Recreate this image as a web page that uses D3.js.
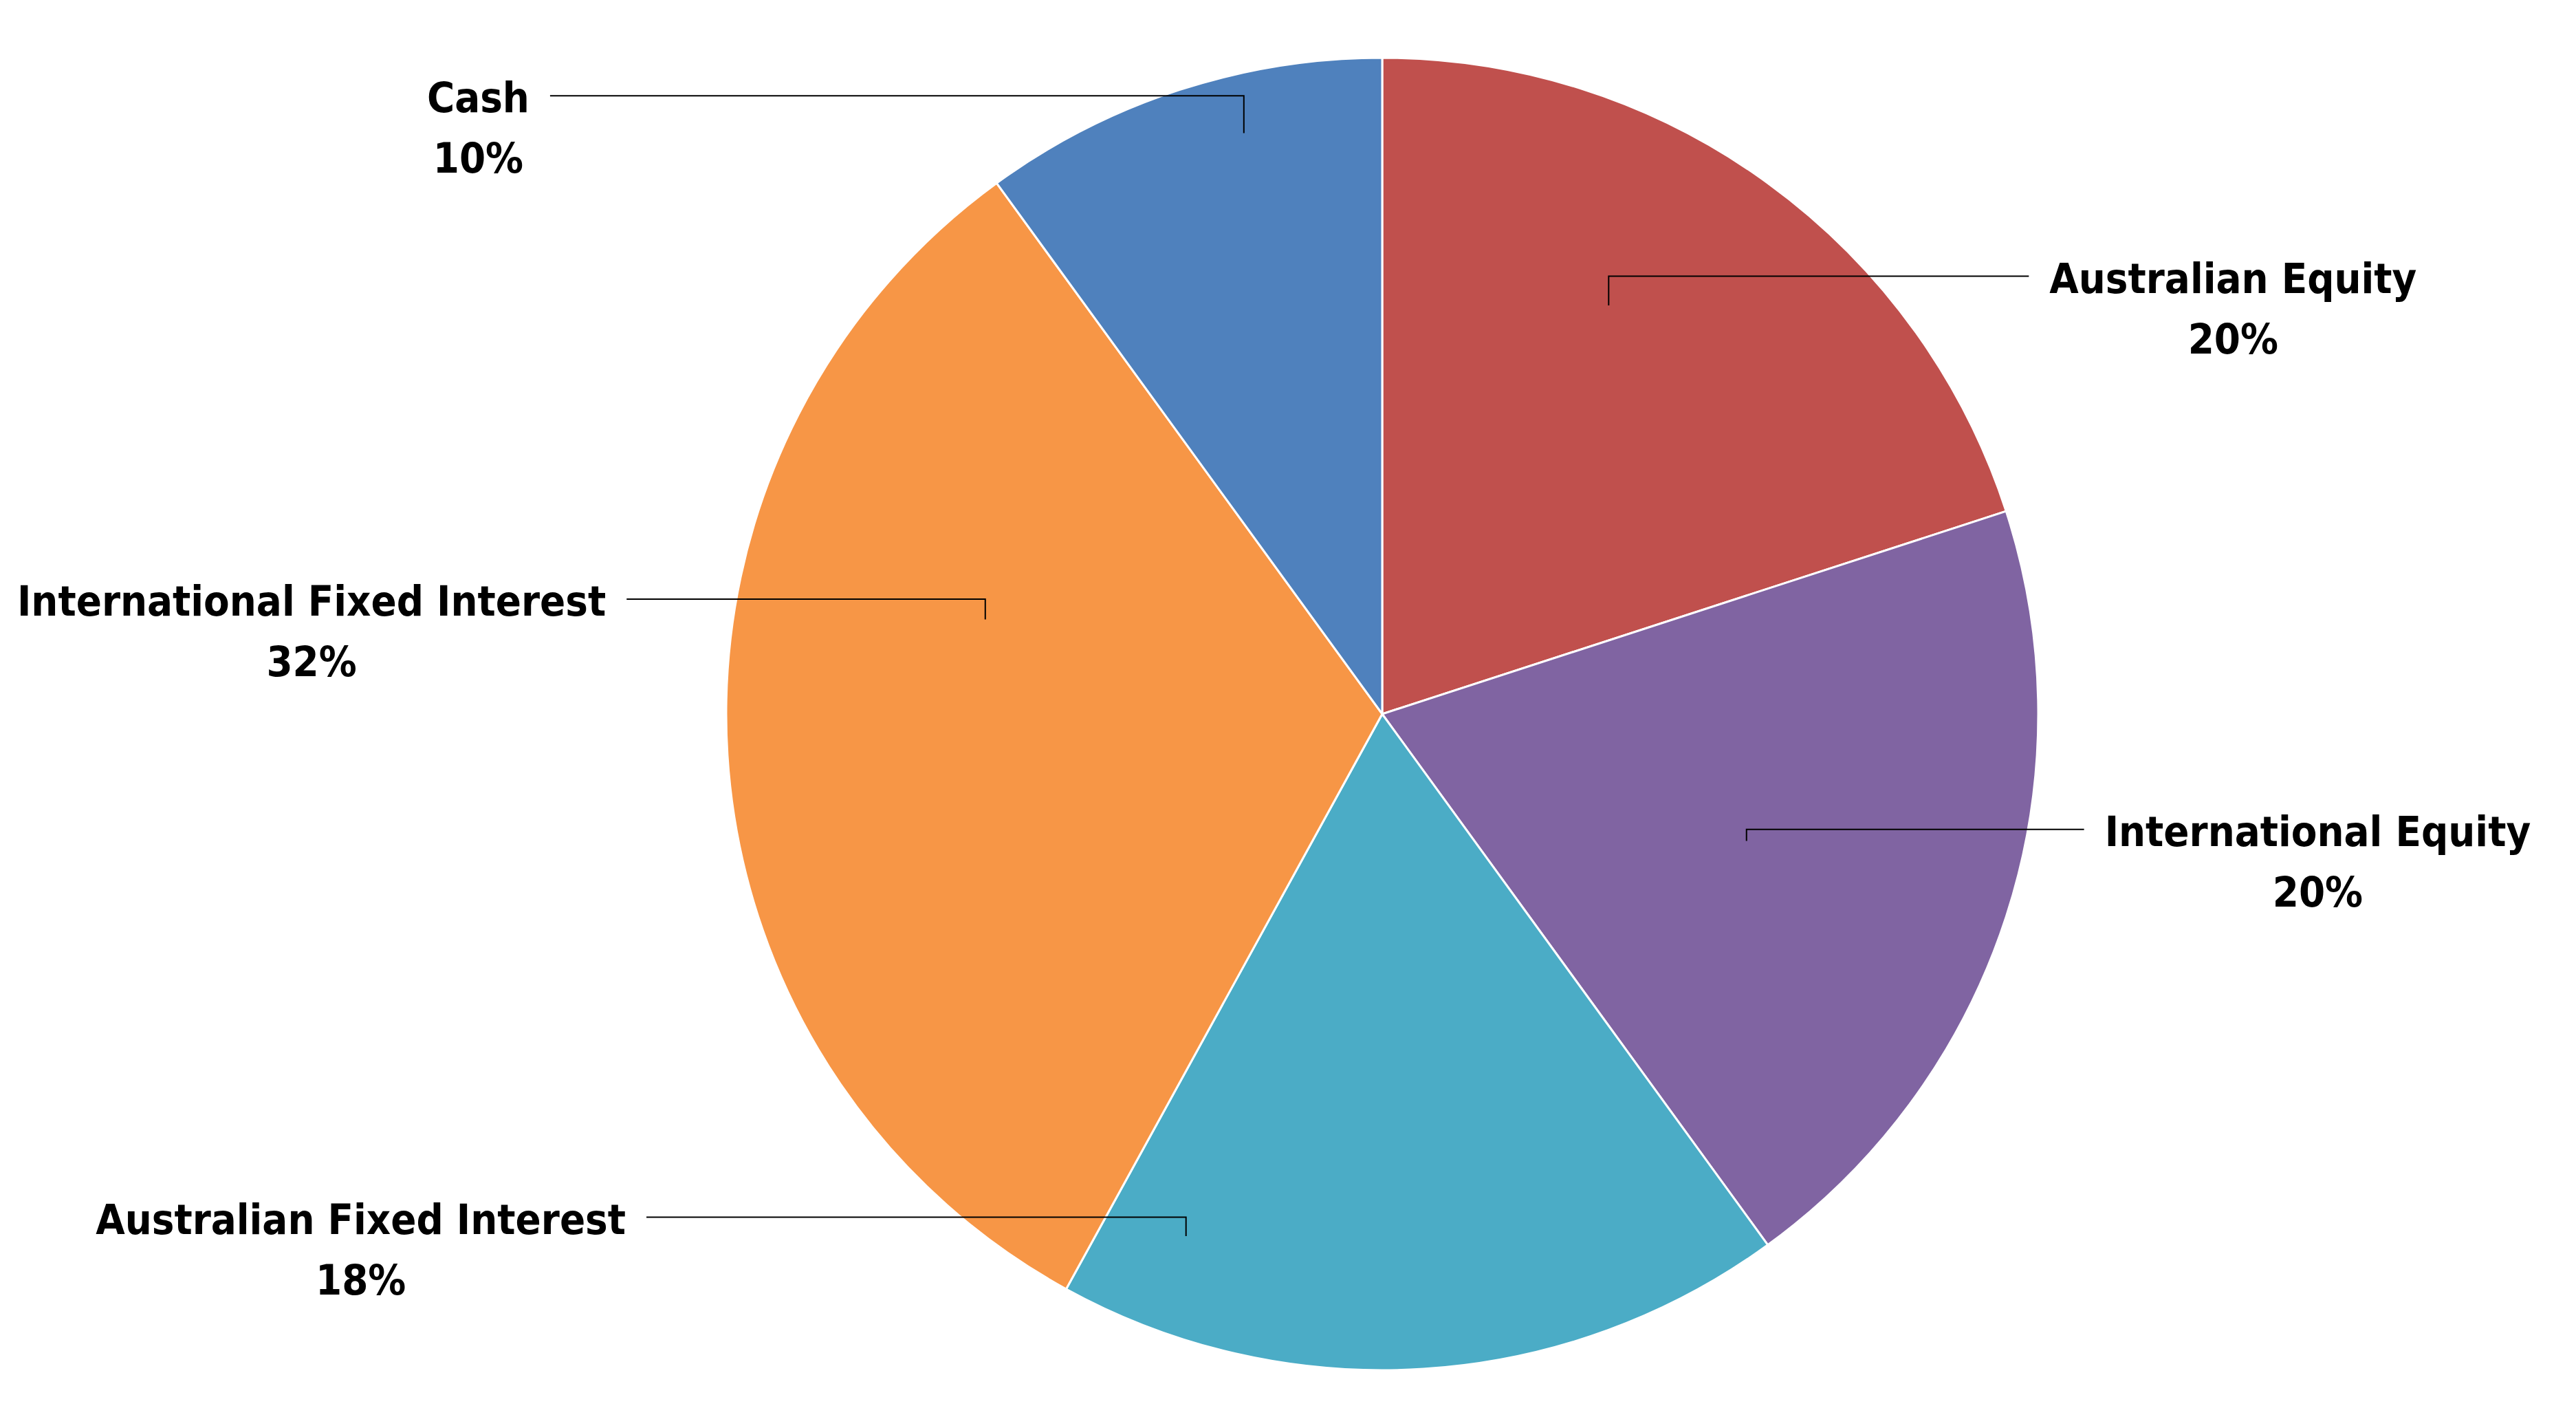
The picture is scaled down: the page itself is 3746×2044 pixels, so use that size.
<!DOCTYPE html>
<meta charset="utf-8">
<title>Asset allocation</title>
<head>
  <script src="https://d3js.org/d3.v7.min.js"></script>
  <style>
    body { margin: 0; background: #fff; }
    .lbl { font-family: "Liberation Sans Narrow", "DejaVu Sans Condensed", "Open Sans", sans-serif; font-stretch: condensed; font-weight: bold; font-size: 61px; fill: #000; }
  </style>
</head>
<body>
  <div id="chart"></div>
  <script>
    // data
    var categories = ["Australian Equity", "International Equity", "Australian Fixed Interest", "International Fixed Interest", "Cash"]
    var shares = [20, 20, 18, 32, 10]
    var colours = ["#C0504D", "#8064A2", "#4BACC6", "#F79646", "#4F81BD"]

    // where each label sits (hand placed in the original), in units of the radius
    var anchorAngle = [29.0, 109.2, 200.6, 283.4, 346.6]
    var anchorRadius = [0.712, 0.588, 0.850, 0.622, 0.910]
    var labelDx = [1.297, 1.426, -1.557, -1.632, -1.378]
    var labelDy = [-0.642, 0.201, 0.792, -0.150, -0.917]

    var width = 3746
    var height = 2044
    var cx = 2010, cy = 1038, radius = 954

    var svg = d3.select("#chart")
      .append("svg")
      .attr("width", width)
      .attr("height", height)

    var g = svg.append("g")
      .attr("transform", "translate(" + cx + "," + cy + ")")

    var rows = categories.map(function(c, i) {
      return { name: c, value: shares[i], colour: colours[i], i: i }
    })

    var pie = d3.pie()
      .sort(null)
      .value(function(d) { return d.value })

    var arc = d3.arc()
      .innerRadius(0)
      .outerRadius(radius)

    g.selectAll("path")
      .data(pie(rows))
      .enter().append("path")
      .attr("d", arc)
      .attr("fill", function(d) { return d.data.colour })
      .attr("stroke", "#fff")
      .attr("stroke-width", 3)

    var lineGap = 88
    var leaderRise = 24
    var textGap = 30

    var labels = g.selectAll("g.label")
      .data(rows)
      .enter().append("g")
      .attr("class", "label")

    labels.each(function(d) {
      var sel = d3.select(this)
      var lx = labelDx[d.i] * radius
      var ly = labelDy[d.i] * radius

      var t1 = sel.append("text")
        .attr("class", "lbl")
        .attr("x", lx)
        .attr("y", ly)
        .attr("text-anchor", "middle")
        .text(d.name)
      sel.append("text")
        .attr("class", "lbl")
        .attr("x", lx)
        .attr("y", ly + lineGap)
        .attr("text-anchor", "middle")
        .text(d3.format(".0f")(d.value) + "%")

      var a = anchorAngle[d.i] * Math.PI / 180
      var ax = Math.sin(a) * anchorRadius[d.i] * radius
      var ay = -Math.cos(a) * anchorRadius[d.i] * radius
      var w = t1.node().getComputedTextLength()
      var ex = ax < lx ? lx - w / 2 - textGap : lx + w / 2 + textGap
      var ey = ly - leaderRise

      sel.append("path")
        .attr("d", d3.line()([[ax, ay], [ax, ey], [ex, ey]]))
        .attr("fill", "none")
        .attr("stroke", "#000")
        .attr("stroke-width", 2)
    })
  </script>
</body>
